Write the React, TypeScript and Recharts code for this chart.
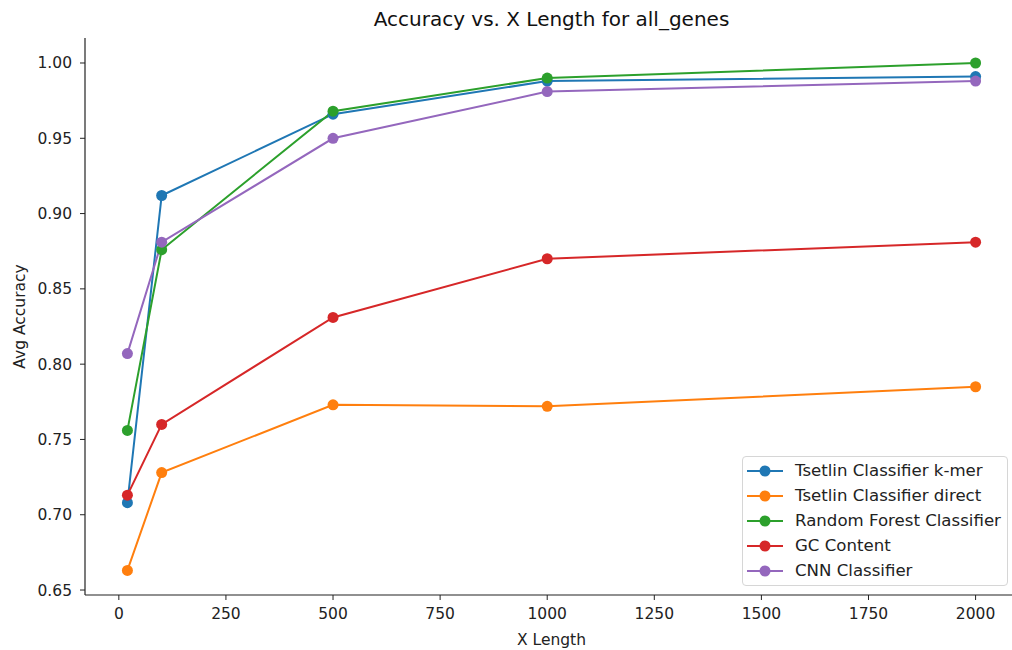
import React from "react";
import { LineChart, Line, XAxis, YAxis } from "recharts";

// x positions (sequence length)
const xLengths = [20, 100, 500, 1000, 2000];

// avg accuracy per model
const tsetlinKmer = [0.708, 0.912, 0.966, 0.988, 0.991];
const tsetlinDirect = [0.663, 0.728, 0.773, 0.772, 0.785];
const randomForest = [0.756, 0.876, 0.968, 0.99, 1.0];
const gcContent = [0.713, 0.76, 0.831, 0.87, 0.881];
const cnn = [0.807, 0.881, 0.95, 0.981, 0.988];

const xTicks = [0, 250, 500, 750, 1000, 1250, 1500, 1750, 2000];
const yTicks = [0.65, 0.7, 0.75, 0.8, 0.85, 0.9, 0.95, 1.0];

const series = [
  { key: "kmer", name: "Tsetlin Classifier k-mer", color: "#1f77b4", values: tsetlinKmer },
  { key: "direct", name: "Tsetlin Classifier direct", color: "#ff7f0e", values: tsetlinDirect },
  { key: "rf", name: "Random Forest Classifier", color: "#2ca02c", values: randomForest },
  { key: "gc", name: "GC Content", color: "#d62728", values: gcContent },
  { key: "cnn", name: "CNN Classifier", color: "#9467bd", values: cnn },
];

const chartData = xLengths.map((x, i) => {
  const row: Record<string, number> = { x };
  series.forEach((s) => {
    row[s.key] = s.values[i];
  });
  return row;
});

const FONT = "'DejaVu Sans', sans-serif";
const INK = "#222";

// legend box drawn like matplotlib's (lower right, semi-transparent)
function LegendBox() {
  return (
    <div
      style={{
        position: "absolute",
        left: 742,
        top: 456,
        width: 266,
        height: 130,
        boxSizing: "border-box",
        border: "1px solid #d6d6d6",
        borderRadius: 4,
        background: "rgba(255,255,255,0.8)",
        fontFamily: FONT,
        fontSize: 16.6,
        color: INK,
        paddingTop: 1,
      }}
    >
      {series.map((s) => (
        <div key={s.key} style={{ display: "flex", alignItems: "center", height: 25 }}>
          <svg width={52} height={14} style={{ flex: "none" }}>
            <line x1={4} y1={7} x2={40} y2={7} stroke={s.color} strokeWidth={2} />
            <circle cx={22} cy={7} r={5.5} fill={s.color} />
          </svg>
          <span style={{ whiteSpace: "nowrap" }}>{s.name}</span>
        </div>
      ))}
    </div>
  );
}

export default function App() {
  return (
    <div
      style={{
        position: "absolute",
        left: 0,
        top: 0,
        width: 1012,
        height: 650,
        overflow: "hidden",
        background: "#fff",
      }}
    >
      <div
        style={{
          position: "absolute",
          left: 85,
          width: 933,
          top: 7,
          textAlign: "center",
          fontFamily: FONT,
          fontSize: 20,
          color: "#111",
        }}
      >
        Accuracy vs. X Length for all_genes
      </div>
      <LineChart
        width={1019}
        height={650}
        data={chartData}
        margin={{ top: 38, right: 1, left: 0, bottom: 0 }}
      >
        <XAxis
          dataKey="x"
          type="number"
          domain={[-79, 2099]}
          ticks={xTicks}
          allowDataOverflow
          height={55}
          tickSize={5}
          tickMargin={8}
          tick={{ fill: INK, fontSize: 15.5, fontFamily: FONT }}
          tickLine={{ stroke: INK }}
          axisLine={{ stroke: INK, strokeWidth: 1.2 }}
          label={{
            value: "X Length",
            position: "insideBottom",
            offset: 5,
            style: { fill: INK, fontSize: 15.5, fontFamily: FONT },
          }}
        />
        {/* top spine only */}
        <XAxis
          xAxisId="top"
          orientation="top"
          dataKey="x"
          type="number"
          domain={[-79, 2099]}
          height={0}
          tick={false}
          tickLine={false}
          axisLine={{ stroke: INK, strokeWidth: 1.2 }}
        />
        <YAxis
          type="number"
          domain={[0.6467, 1.0166]}
          ticks={yTicks}
          allowDataOverflow
          width={85}
          tickSize={5}
          tickMargin={8}
          tickFormatter={(v: number) => v.toFixed(2)}
          tick={{ fill: INK, fontSize: 15.5, fontFamily: FONT }}
          tickLine={{ stroke: INK }}
          axisLine={{ stroke: INK, strokeWidth: 1.2 }}
          label={{
            value: "Avg Accuracy",
            angle: -90,
            position: "insideLeft",
            offset: 19,
            style: { textAnchor: "middle", fill: INK, fontSize: 15.5, fontFamily: FONT },
          }}
        />
        {series.map((s) => (
          <Line
            key={s.key}
            dataKey={s.key}
            name={s.name}
            type="linear"
            stroke={s.color}
            strokeWidth={2}
            dot={{ r: 5.5, fill: s.color, stroke: s.color, strokeWidth: 0 }}
            activeDot={false}
            isAnimationActive={false}
          />
        ))}
      </LineChart>
      <LegendBox />
    </div>
  );
}
